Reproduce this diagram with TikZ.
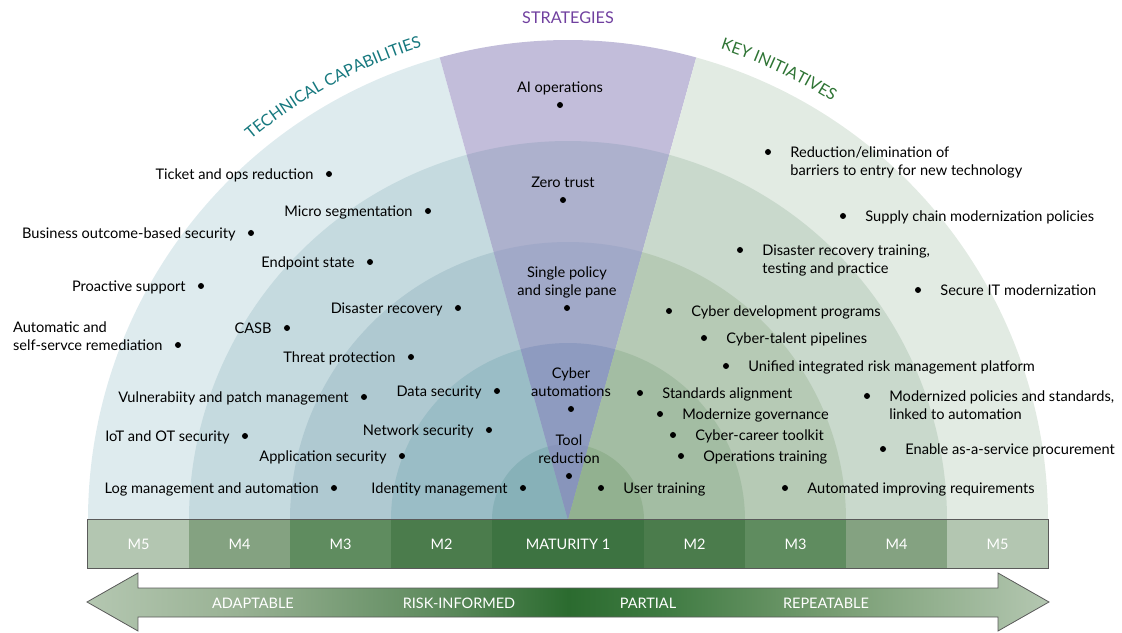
\documentclass[tikz,border=0pt]{standalone}
\usepackage{fontspec}
\setmainfont{Lato}
\usetikzlibrary{positioning,decorations.text}

% ring colours: tc = technical capabilities, st = strategies, ki = key initiatives
\definecolor{tc5}{HTML}{DEEBEE}
\definecolor{tc4}{HTML}{C5DADF}
\definecolor{tc3}{HTML}{AFC9D1}
\definecolor{tc2}{HTML}{9ABDC6}
\definecolor{tc1}{HTML}{87B1B8}
\definecolor{st5}{HTML}{C2BDDA}
\definecolor{st4}{HTML}{ADB1CD}
\definecolor{st3}{HTML}{A1A9C8}
\definecolor{st2}{HTML}{8E9BC0}
\definecolor{st1}{HTML}{8895BB}
\definecolor{ki5}{HTML}{E2EBE3}
\definecolor{ki4}{HTML}{C9D9CC}
\definecolor{ki3}{HTML}{B6CAB5}
\definecolor{ki2}{HTML}{A3BDA3}
\definecolor{ki1}{HTML}{92B190}
% maturity bar
\definecolor{mat5}{HTML}{B3C6B1}
\definecolor{mat4}{HTML}{84A281}
\definecolor{mat3}{HTML}{5F8C5F}
\definecolor{mat2}{HTML}{4B7C4C}
\definecolor{mat1}{HTML}{3D7341}
\definecolor{barline}{HTML}{5A5A5A}
% arrow
\definecolor{arrlight}{HTML}{B4C7B1}
\definecolor{arrtwo}{HTML}{98B193}
\definecolor{arrthree}{HTML}{5A885A}
\definecolor{arrdark}{HTML}{2B6B2F}
\definecolor{arrfour}{HTML}{3F7B42}
\definecolor{arrfive}{HTML}{739A6E}
% headings
\definecolor{techcol}{HTML}{16787E}
\definecolor{stratcol}{HTML}{70409F}
\definecolor{keycol}{HTML}{2E7434}

\pgfdeclarehorizontalshading{maturityshade}{100bp}{color(0bp)=(arrlight); color(25bp)=(arrlight); color(33bp)=(arrtwo); color(44bp)=(arrthree); color(50bp)=(arrdark); color(55bp)=(arrfour); color(63bp)=(arrfive); color(75bp)=(arrlight); color(100bp)=(arrlight)}

\newcommand\lblfont{\fontsize{14.6}{18}\selectfont}
\newcommand\capsfont{\fontsize{16.2}{19}\selectfont}
\newcommand\barfont{\fontsize{14.5}{17}\selectfont}

\begin{document}
\begin{tikzpicture}[x=1pt, y=1pt,
  dot/.style={circle, fill=black, inner sep=0pt, minimum size=6pt},
  item/.style={font=\lblfont, inner sep=0pt, text height=15pt, text depth=3pt},
  item2/.style={font=\lblfont, inner sep=0pt},
  matbox/.style={minimum height=48pt, inner sep=0pt, text=white, font=\barfont},
  arrtext/.style={text=white, font=\barfont}]

\useasboundingbox (-568,-112) rectangle (554,520);

% rings of the fan
\foreach \r/\cl/\cm/\cr in {480/tc5/st5/ki5, 379/tc4/st4/ki4, 278/tc3/st3/ki3, 177/tc2/st2/ki2, 76/tc1/st1/ki1} {
  \fill[\cl] (0,0) -- (105.5:\r pt) arc[start angle=105.5, end angle=180, radius=\r pt] -- cycle;
  \fill[\cm] (0,0) -- (74.5:\r pt) arc[start angle=74.5, end angle=105.5, radius=\r pt] -- cycle;
  \fill[\cr] (0,0) -- (0:\r pt) arc[start angle=0, end angle=74.5, radius=\r pt] -- cycle;
}

% headings
\node[font=\capsfont, text=stratcol] (strat) at (0,502) {STRATEGIES};
\path[decorate, decoration={text along path, text align=center,
  text={|\capsfont\color{techcol}|TECHNICAL CAPABILITIES}}]
  (140:495pt) arc[start angle=140, end angle=97, radius=495pt];
\path[decorate, decoration={text along path, text align=center,
  text={|\capsfont\color{keycol}|KEY INITIATIVES}}]
  (86:495pt) arc[start angle=86, end angle=43.8, radius=495pt];

% technical capabilities
\node[dot] (tick) at (-239,346) {};
\node[item, left=12pt of tick] (tickt) {Ticket and ops reduction};
\node[dot] (micro) at (-140,309) {};
\node[item, left=12pt of micro] (microt) {Micro segmentation};
\node[dot] (busi) at (-317,287) {};
\node[item, left=12pt of busi] (busit) {Business outcome-based security};
\node[dot] (endp) at (-198,258) {};
\node[item, left=12pt of endp] (endpt) {Endpoint state};
\node[dot] (proa) at (-367,234) {};
\node[item, left=12pt of proa] (proat) {Proactive support};
\node[dot] (disa) at (-110,212) {};
\node[item, left=12pt of disa] (disat) {Disaster recovery};
\node[dot] (casb) at (-281,192) {};
\node[item, left=12pt of casb] (casbt) {CASB};
\node[dot] (auto) at (-390,175) {};
\node[item2, align=left, anchor=south east] (autot) at ([shift={(-12pt,-5.4pt)}]auto.west) {Automatic and\\self-servce remediation};
\node[dot] (threat) at (-157,163) {};
\node[item, left=12pt of threat] (threatt) {Threat protection};
\node[dot] (vuln) at (-204,123) {};
\node[item, left=12pt of vuln] (vulnt) {Vulnerabiity and patch management};
\node[dot] (datas) at (-71,129) {};
\node[item, left=12pt of datas] (datast) {Data security};
\node[dot] (iot) at (-323,84) {};
\node[item, left=12pt of iot] (iott) {IoT and OT security};
\node[dot] (netw) at (-79,90) {};
\node[item, left=12pt of netw] (netwt) {Network security};
\node[dot] (apps) at (-166,64) {};
\node[item, left=12pt of apps] (appst) {Application security};
\node[dot] (logm) at (-234,32) {};
\node[item, left=12pt of logm] (logmt) {Log management and automation};
\node[dot] (iden) at (-45,32) {};
\node[item, left=12pt of iden] (ident) {Identity management};

% strategies
\node[dot] (aiops) at (-8,415) {};
\node[item, above=6pt of aiops] (aiopst) {AI operations};
\node[dot] (zero) at (-5,320) {};
\node[item, above=6pt of zero] (zerot) {Zero trust};
\node[dot] (single) at (-1,212) {};
\node[item2, align=center, above=6.3pt of single] (singlet) {Single policy\\and single pane};
\node[dot] (cyber) at (3,111) {};
\node[item2, align=center, above=9pt of cyber] (cybert) {Cyber\\automations};
\node[dot] (tool) at (1,44) {};
\node[item2, align=center, above=9pt of tool] (toolt) {Tool\\reduction};

% key initiatives
\node[dot] (redu) at (200,368) {};
\node[item2, align=left, anchor=north west] (redut) at ([shift={(19pt,5.5pt)}]redu.east) {Reduction/elimination of\\barriers to entry for new technology};
\node[dot] (supp) at (275,304) {};
\node[item, right=19pt of supp] (suppt) {Supply chain modernization policies};
\node[dot] (drtr) at (172,270) {};
\node[item2, align=left, anchor=north west] (drtrt) at ([shift={(19pt,5.5pt)}]drtr.east) {Disaster recovery training,\\testing and practice};
\node[dot] (secu) at (350,230) {};
\node[item, right=19pt of secu] (secut) {Secure IT modernization};
\node[dot] (cdev) at (101,209) {};
\node[item, right=19pt of cdev] (cdevt) {Cyber development programs};
\node[dot] (ctal) at (136,182) {};
\node[item, right=19pt of ctal] (ctalt) {Cyber-talent pipelines};
\node[dot] (unif) at (158,154) {};
\node[item, right=19pt of unif] (unift) {Unified integrated risk management platform};
\node[dot] (stan) at (72,127) {};
\node[item, right=19pt of stan] (stant) {Standards alignment};
\node[dot] (modp) at (299,124) {};
\node[item2, align=left, anchor=north west] (modpt) at ([shift={(19pt,5.5pt)}]modp.east) {Modernized policies and standards,\\linked to automation};
\node[dot] (modg) at (92,106) {};
\node[item, right=19pt of modg] (modgt) {Modernize governance};
\node[dot] (ccar) at (105,85) {};
\node[item, right=19pt of ccar] (ccart) {Cyber-career toolkit};
\node[dot] (enab) at (315,71) {};
\node[item, right=19pt of enab] (enabt) {Enable as-a-service procurement};
\node[dot] (opst) at (113,64) {};
\node[item, right=19pt of opst] (opstt) {Operations training};
\node[dot] (user) at (33,32) {};
\node[item, right=19pt of user] (usert) {User training};
\node[dot] (autr) at (217,32) {};
\node[item, right=19pt of autr] (autrt) {Automated improving requirements};

% maturity bar
\foreach \x/\w/\c/\t [count=\i] in {-429.5/101/mat5/M5, -328.5/101/mat4/M4, -227.5/101/mat3/M3, -126.5/101/mat2/M2, 0/152/mat1/MATURITY 1, 126.5/101/mat2/M2, 227.5/101/mat3/M3, 328.5/101/mat4/M4, 429.5/101/mat5/M5}
  \node[matbox, minimum width=\w pt, fill=\c] (seg\i) at (\x,-24) {\t};
\draw[barline, line width=0.8pt] (seg1.north west) rectangle (seg9.south east);

% maturity arrow
\shadedraw[shading=maturityshade, draw=barline, line width=0.8pt]
  (-481,-82) -- (-430,-53) -- (-430,-68) -- (430,-68) -- (430,-53) -- (481,-82)
  -- (430,-111) -- (430,-97) -- (-430,-97) -- (-430,-111) -- cycle;
\node[arrtext] (adapt) at (-315,-83) {ADAPTABLE};
\node[arrtext] (risk) at (-109,-83) {RISK-INFORMED};
\node[arrtext] (part) at (80,-83) {PARTIAL};
\node[arrtext] (repe) at (258,-83) {REPEATABLE};
\end{tikzpicture}
\end{document}
